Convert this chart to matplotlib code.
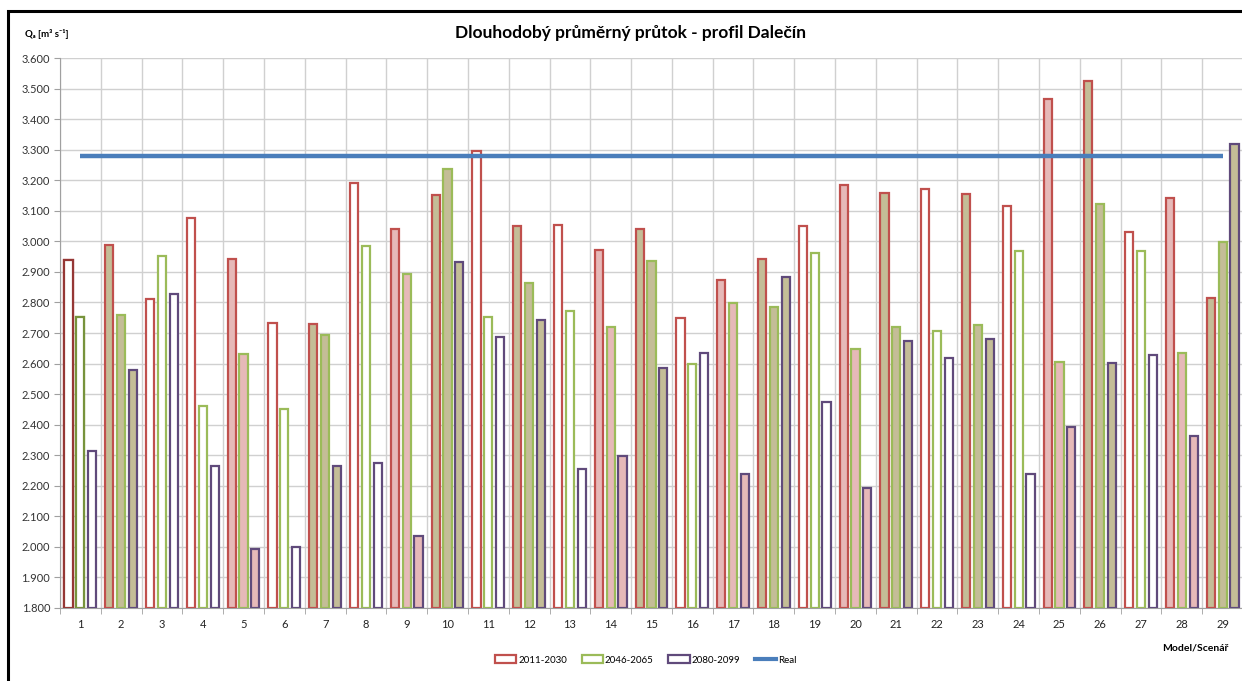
import numpy as np
import matplotlib
matplotlib.use("Agg")
import matplotlib.pyplot as plt
from matplotlib.patches import Rectangle, Patch
from matplotlib.lines import Line2D
from matplotlib.ticker import MultipleLocator, FormatStrFormatter

plt.rcParams['font.family'] = ['Lato', 'DejaVu Sans']

# Data
models = list(range(1, 30))
q_2011_2030 = [2.940, 2.987, 2.810, 3.078, 2.943, 2.732, 2.730, 3.190, 3.040, 3.153,
               3.296, 3.050, 3.052, 2.972, 3.041, 2.750, 2.872, 2.943, 3.051, 3.184,
               3.157, 3.172, 3.156, 3.115, 3.466, 3.525, 3.032, 3.141, 2.813]
q_2046_2065 = [2.751, 2.759, 2.953, 2.462, 2.630, 2.452, 2.692, 2.986, 2.894, 3.237,
               2.751, 2.863, 2.772, 2.720, 2.936, 2.599, 2.797, 2.784, 2.961, 2.647,
               2.720, 2.708, 2.726, 2.969, 2.605, 3.121, 2.969, 2.635, 2.998]
q_2080_2099 = [2.315, 2.578, 2.827, 2.265, 1.994, 2.000, 2.266, 2.273, 2.035, 2.932,
               2.688, 2.743, 2.255, 2.299, 2.587, 2.634, 2.238, 2.884, 2.473, 2.193,
               2.673, 2.619, 2.682, 2.238, 2.394, 2.603, 2.627, 2.363, 3.317]
q_real = 3.28
# fill style per model: W = white, P = pink, T = tan
fill_style = "WTWWPWTWPTWTWPTWPTWPTWTWPTWPT"

fill_colors = {'W': 'white', 'P': '#e6b9b8', 'T': '#c4bd97'}
series = [
    ("2011-2030", q_2011_2030, '#c0504d', -0.29),
    ("2046-2065", q_2046_2065, '#9bbb59', 0.0),
    ("2080-2099", q_2080_2099, '#604a7b', 0.29),
]

fig = plt.figure(figsize=(12.42, 6.81), dpi=100)
ax = fig.add_axes([60 / 1242, 1 - 608 / 681, 1183 / 1242, 550 / 681])

x = np.array(models)
fills = [fill_colors[c] for c in fill_style]
for name, vals, col, off in series:
    edges = [col] * len(vals)
    ax.bar(x + off, np.array(vals) - 1.8, bottom=1.8, width=0.2,
           color=fills, edgecolor=edges, linewidth=1.6, zorder=3)

# first model drawn with darker outlines
ax.bar(1 - 0.29, q_2011_2030[0] - 1.8, bottom=1.8, width=0.2, color='white',
       edgecolor='#953735', linewidth=1.6, zorder=4)
ax.bar(1, q_2046_2065[0] - 1.8, bottom=1.8, width=0.2, color='white',
       edgecolor='#77933c', linewidth=1.6, zorder=4)

ax.plot(x, [q_real] * len(x), color='#4a7ebb', linewidth=3.2, zorder=5,
        solid_capstyle='butt')

ax.set_xlim(0.5, 29.5)
ax.set_ylim(1.8, 3.6)
ax.yaxis.set_major_locator(MultipleLocator(0.1))
ax.yaxis.set_major_formatter(FormatStrFormatter('%.3f'))
ax.set_xticks(x)
ax.set_xticklabels([str(m) for m in models])
ax.set_xticks(np.arange(0.5, 30, 1), minor=True)
ax.tick_params(axis='x', which='major', length=0, labelsize=8, pad=8, colors='#222222')
ax.tick_params(axis='x', which='minor', length=4, color='#a0a0a0')
ax.tick_params(axis='y', length=4, color='#a0a0a0', labelsize=8, colors='#333333', pad=3)
ax.grid(axis='y', which='major', color='#d0d0d0', linewidth=1.0, zorder=0)
ax.grid(axis='x', which='minor', color='#d0d0d0', linewidth=1.0, zorder=0)
for s in ['top', 'right']:
    ax.spines[s].set_visible(False)
ax.spines['left'].set_color('#a0a0a0')
ax.spines['bottom'].set_color('#a0a0a0')

fig.text(0.508, 1 - 33 / 681, "Dlouhodobý průměrný průtok - profil Dalečín",
         ha='center', va='center', fontsize=12.5, fontweight='bold')
fig.text(25 / 1242, 1 - 34 / 681, "Qₐ [m³ s⁻¹]", ha='left', va='center',
         fontsize=7, fontweight='bold')
fig.text(1195 / 1242, 1 - 648 / 681, "Model/Scenář", ha='center', va='center',
         fontsize=7.5, fontweight='bold')

handles = [Patch(facecolor='white', edgecolor=c, linewidth=1.6, label=n) for n, v, c, o in series]
handles.append(Line2D([0], [0], color='#4a7ebb', linewidth=3, label='Real'))
fig.legend(handles=handles, loc='center', bbox_to_anchor=(0.52, 1 - 660 / 681),
           ncol=4, frameon=False, fontsize=7, handlelength=2.2, handleheight=0.8,
           handletextpad=0.2, columnspacing=1.5)

# outer chart frame
fig.add_artist(Rectangle((8 / 1242, -0.05), 1.2, 1.05 - 11 / 681, transform=fig.transFigure,
                         fill=False, edgecolor='black', linewidth=2.2, clip_on=False))

fig.savefig("out.png", dpi=100)
